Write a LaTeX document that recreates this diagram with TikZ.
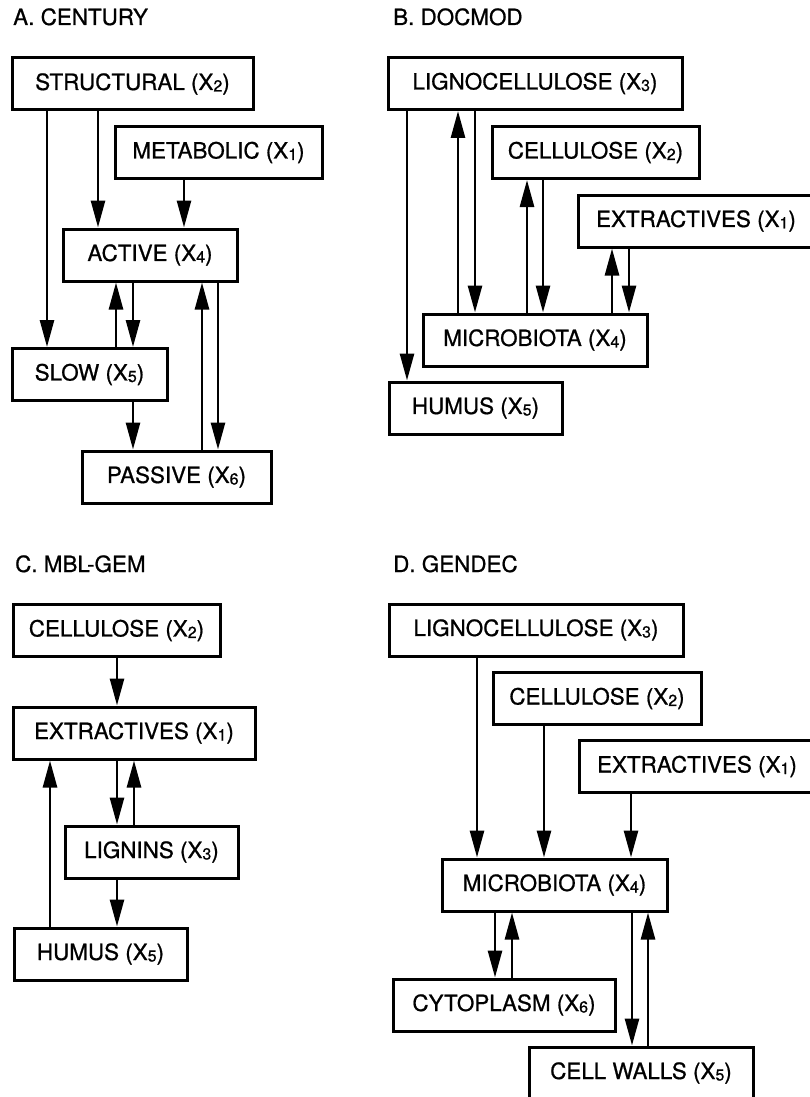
\documentclass[tikz,border=0pt]{standalone}
\usepackage{fontspec}
\setmainfont{TeX Gyre Heros}[FakeBold=0.8]
\usetikzlibrary{arrows.meta}
\newcommand{\xsub}[1]{X\raisebox{-1.5pt}{\fontsize{16}{16}\selectfont #1}}

\begin{document}
\begin{tikzpicture}[x=1pt,y=-1pt,
                every node/.style={font=\fontsize{22.4}{26}\selectfont},
                pool/.style={draw,rectangle,line width=3pt,minimum height=52pt,inner sep=0pt},
                title/.style={anchor=base west,inner sep=0pt},
                >={Triangle[length=27pt,width=14pt]},
                every edge/.style={draw,line width=2.7pt}]
                \useasboundingbox (0,0) rectangle (810,1097);
                % A. CENTURY
                \node[title] (t_a) at (13,25) {A. CENTURY};
                \node[pool,minimum width=241] (a_2) at (132.5,84) {STRUCTURAL (\xsub{2})};
                \node[pool,minimum width=207] (a_1) at (218.5,152.5) {METABOLIC (\xsub{1})};
                \node[pool,minimum width=174] (a_4) at (150,255) {ACTIVE (\xsub{4})};
                \node[pool,minimum width=155] (a_5) at (89.5,374.5) {SLOW (\xsub{5})};
                \node[pool,minimum width=189] (a_6) at (176.5,477) {PASSIVE (\xsub{6})};
                \path[->]
                (a_2.south -| 47,0) edge (a_5.north -| 47,0)
                (a_2.south -| 98,0) edge (a_4.north -| 98,0)
                (a_1.south -| 184,0) edge (a_4.north -| 184,0)
                (a_5.north -| 116,0) edge (a_4.south -| 116,0)
                (a_4.south -| 133,0) edge (a_5.north -| 133,0)
                (a_5.south -| 133,0) edge (a_6.north -| 133,0)
                (a_6.north -| 202,0) edge (a_4.south -| 202,0)
                (a_4.south -| 218,0) edge (a_6.north -| 218,0);
                % B. DOCMOD
                \node[title] (t_b) at (393,25) {B. DOCMOD};
                \node[pool,minimum width=294] (b_3) at (535,83.5) {LIGNOCELLULOSE (\xsub{3})};
                \node[pool,minimum width=207] (b_2) at (595.5,152.5) {CELLULOSE (\xsub{2})};
                \node[pool,minimum width=236] (b_1) at (696,221) {EXTRACTIVES (\xsub{1})};
                \node[pool,minimum width=224] (b_4) at (535,340) {MICROBIOTA (\xsub{4})};
                \node[pool,minimum width=173] (b_5) at (475.5,408) {HUMUS (\xsub{5})};
                \path[->]
                (b_3.south -| 407,0) edge (b_5.north -| 407,0)
                (b_4.north -| 458,0) edge (b_3.south -| 458,0)
                (b_3.south -| 475,0) edge (b_4.north -| 475,0)
                (b_4.north -| 527,0) edge (b_2.south -| 527,0)
                (b_2.south -| 543,0) edge (b_4.north -| 543,0)
                (b_4.north -| 612,0) edge (b_1.south -| 612,0)
                (b_1.south -| 629,0) edge (b_4.north -| 629,0);
                % C. MBL-GEM
                \node[title] (t_c) at (15,572) {C. MBL-GEM};
                \node[pool,minimum width=207] (c_2) at (116.5,630.5) {CELLULOSE (\xsub{2})};
                \node[pool,minimum width=242] (c_1) at (134,733) {EXTRACTIVES (\xsub{1})};
                \node[pool,minimum width=173] (c_3) at (151.5,852) {LIGNINS (\xsub{3})};
                \node[pool,minimum width=173] (c_5) at (100.5,954) {HUMUS (\xsub{5})};
                \path[->]
                (c_2.south -| 117,0) edge (c_1.north -| 117,0)
                (c_5.north -| 50,0) edge (c_1.south -| 50,0)
                (c_1.south -| 117,0) edge (c_3.north -| 117,0)
                (c_3.north -| 134,0) edge (c_1.south -| 134,0)
                (c_3.south -| 117,0) edge (c_5.north -| 117,0);
                % D. GENDEC
                \node[title] (t_d) at (393,572) {D. GENDEC};
                \node[pool,minimum width=294] (d_3) at (536,630) {LIGNOCELLULOSE (\xsub{3})};
                \node[pool,minimum width=208] (d_2) at (597,698.5) {CELLULOSE (\xsub{2})};
                \node[pool,minimum width=236] (d_1) at (697,766.5) {EXTRACTIVES (\xsub{1})};
                \node[pool,minimum width=225] (d_4) at (554.5,885) {MICROBIOTA (\xsub{4})};
                \node[pool,minimum width=222] (d_6) at (504,1005) {CYTOPLASM (\xsub{6})};
                \node[pool,minimum width=224] (d_5) at (641,1073) {CELL WALLS (\xsub{5})};
                \path[->]
                (d_3.south -| 477,0) edge (d_4.north -| 477,0)
                (d_2.south -| 544,0) edge (d_4.north -| 544,0)
                (d_1.south -| 631,0) edge (d_4.north -| 631,0)
                (d_4.south -| 495,0) edge (d_6.north -| 495,0)
                (d_6.north -| 512,0) edge (d_4.south -| 512,0)
                (d_4.south -| 632,0) edge (d_5.north -| 632,0)
                (d_5.north -| 648,0) edge (d_4.south -| 648,0);
\end{tikzpicture}
\end{document}
